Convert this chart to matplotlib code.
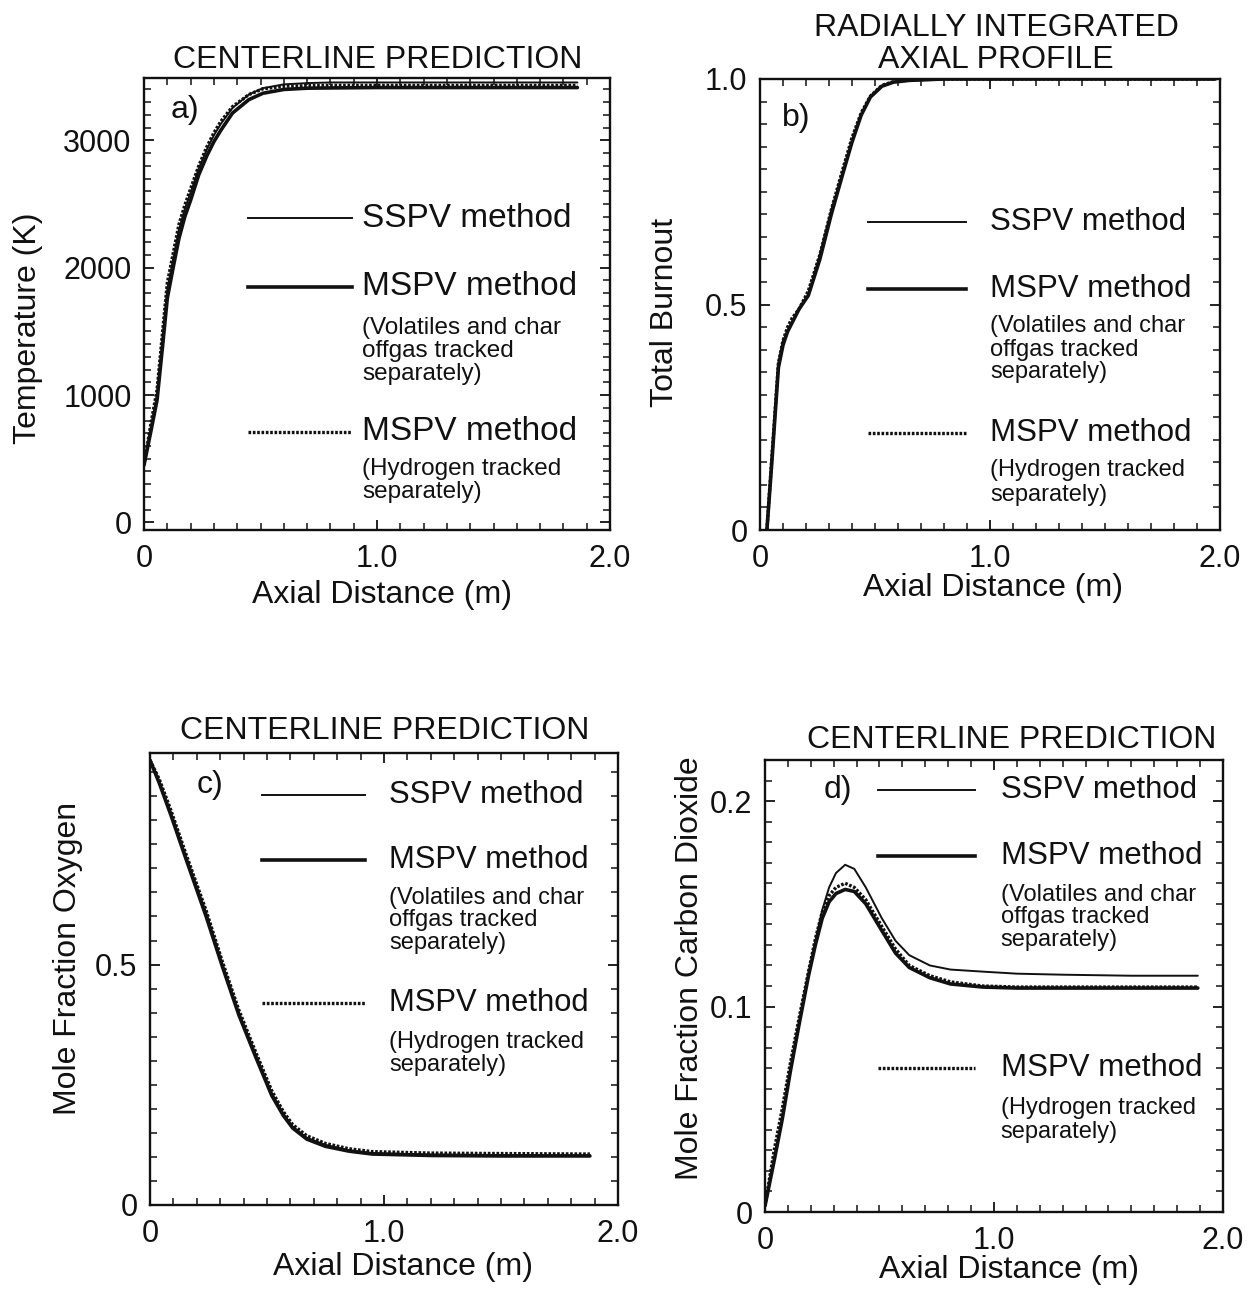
import matplotlib
matplotlib.use("Agg")
import matplotlib.pyplot as plt
from matplotlib.ticker import MultipleLocator, FixedLocator

plt.rcParams['font.family'] = ['Liberation Sans', 'DejaVu Sans']

W, H = 1260, 1290
INK = '#111111'

# ---------------- data ----------------
# a) centerline temperature (K)
xa = [0, 0.03, 0.056, 0.08, 0.10, 0.125, 0.15, 0.175, 0.20, 0.235, 0.27, 0.30,
      0.33, 0.38, 0.45, 0.51, 0.60, 0.70, 0.80, 1.0, 1.2, 1.4, 1.6, 1.86]
temp_sspv = [450, 750, 1000, 1450, 1830, 2070, 2300, 2460, 2590, 2780, 2930, 3040,
             3130, 3255, 3360, 3410, 3440, 3450, 3455, 3455, 3455, 3455, 3455, 3455]
temp_mspv = [450, 720, 960, 1390, 1760, 2000, 2230, 2400, 2530, 2730, 2880, 2990,
             3080, 3215, 3320, 3370, 3400, 3410, 3412, 3415, 3415, 3415, 3415, 3415]
temp_h2 = [450, 780, 1040, 1500, 1880, 2110, 2340, 2490, 2620, 2800, 2950, 3060,
           3150, 3265, 3360, 3405, 3425, 3430, 3432, 3432, 3432, 3432, 3432, 3432]

# b) radially integrated total burnout
xb = [0.03, 0.05, 0.08, 0.10, 0.12, 0.14, 0.17, 0.21, 0.26, 0.31, 0.36, 0.40,
      0.44, 0.48, 0.53, 0.58, 0.65, 0.80, 1.0, 1.5, 1.98]
burn_sspv = [0, 0.15, 0.37, 0.42, 0.44, 0.46, 0.49, 0.52, 0.61, 0.71, 0.79, 0.86,
             0.92, 0.96, 0.985, 0.993, 0.997, 1.0, 1.0, 1.0, 1.0]
burn_mspv = [0, 0.14, 0.36, 0.41, 0.44, 0.46, 0.49, 0.52, 0.60, 0.70, 0.79, 0.86,
             0.92, 0.96, 0.984, 0.993, 0.997, 1.0, 1.0, 1.0, 1.0]
burn_h2 = [0, 0.15, 0.37, 0.42, 0.45, 0.47, 0.49, 0.53, 0.61, 0.71, 0.80, 0.87,
           0.925, 0.962, 0.986, 0.994, 0.998, 1.0, 1.0, 1.0, 1.0]

# c) centerline oxygen mole fraction
xc = [0, 0.04, 0.09, 0.15, 0.24, 0.31, 0.38, 0.45, 0.52, 0.57, 0.61, 0.67,
      0.75, 0.85, 0.95, 1.2, 1.5, 1.88]
o2_sspv = [0.925, 0.88, 0.815, 0.73, 0.608, 0.50, 0.40, 0.315, 0.233, 0.19, 0.163,
           0.14, 0.125, 0.114, 0.108, 0.105, 0.104, 0.103]
o2_mspv = [0.925, 0.877, 0.81, 0.725, 0.600, 0.495, 0.395, 0.31, 0.228, 0.186, 0.160,
           0.137, 0.122, 0.112, 0.106, 0.103, 0.102, 0.102]
o2_h2 = [0.925, 0.885, 0.82, 0.735, 0.612, 0.505, 0.405, 0.32, 0.238, 0.194, 0.167,
         0.144, 0.128, 0.117, 0.111, 0.108, 0.107, 0.106]

# d) centerline carbon dioxide mole fraction
xd = [0, 0.04, 0.075, 0.11, 0.15, 0.19, 0.22, 0.25, 0.28, 0.31, 0.35, 0.39,
      0.44, 0.51, 0.57, 0.63, 0.72, 0.81, 0.95, 1.1, 1.3, 1.6, 1.89]
co2_sspv = [0.003, 0.025, 0.045, 0.068, 0.092, 0.115, 0.132, 0.147, 0.158, 0.165,
            0.169, 0.167, 0.158, 0.143, 0.132, 0.125, 0.120, 0.118, 0.117, 0.116,
            0.1155, 0.115, 0.115]
co2_mspv = [0.003, 0.025, 0.045, 0.068, 0.092, 0.115, 0.130, 0.143, 0.151, 0.155,
            0.157, 0.156, 0.150, 0.137, 0.126, 0.119, 0.114, 0.111, 0.1095, 0.109,
            0.109, 0.109, 0.109]
co2_h2 = [0.003, 0.030, 0.050, 0.072, 0.095, 0.117, 0.133, 0.146, 0.154, 0.158,
          0.160, 0.158, 0.152, 0.139, 0.128, 0.120, 0.115, 0.112, 0.110, 0.1095,
          0.1095, 0.1095, 0.1095]

xticks = [0, 1.0, 2.0]
xtick_labels = ['0', '1.0', '2.0']

titles = ["CENTERLINE PREDICTION", "RADIALLY INTEGRATED\nAXIAL PROFILE",
          "CENTERLINE PREDICTION", "CENTERLINE PREDICTION"]
ylabels = ["Temperature (K)", "Total Burnout", "Mole Fraction Oxygen",
           "Mole Fraction Carbon Dioxide"]
xlabel = "Axial Distance (m)"
panel_tags = ["a)", "b)", "c)", "d)"]
method_main = ["SSPV method", "MSPV method", "MSPV method"]
sub_volatiles = ["(Volatiles and char", "offgas tracked", "separately)"]
sub_hydrogen = ["(Hydrogen tracked", "separately)"]

# ---------------- figure ----------------
fig = plt.figure(figsize=(W / 100, H / 100), dpi=100)


def box(l, t, r, b):
    return [l / W, 1 - b / H, (r - l) / W, (b - t) / H]


def ftext(px, py, s, **kw):
    fig.text(px / W, 1 - py / H, s, **kw)


styles = [dict(lw=1.4, ls='-'), dict(lw=2.6, ls='-'),
          dict(lw=2.4, ls=(0, (0.8, 0.5)))]

panels = [
    dict(rect=box(144, 78, 610, 530), x=xa, ys=[temp_sspv, temp_mspv, temp_h2],
         ylim=(-60, 3490), yticks=[0, 1000, 2000, 3000],
         yticklabels=['0', '1000', '2000', '3000'], ymin=100, xlim=(0, 2.0),
         line=(0.223, 0.446), tx=0.468, fs=24, sfs=17.5,
         ypos=[0.690, 0.538, 0.217], sub1=[0.446, 0.396, 0.346], sub2=[0.135, 0.083],
         tag=(0.088, 0.929)),
    dict(rect=box(760, 79, 1220, 530), x=xb, ys=[burn_sspv, burn_mspv, burn_h2],
         ylim=(0, 1.0), yticks=[0, 0.5, 1.0], yticklabels=['0', '0.5', '1.0'],
         ymin=0.05, xlim=(0, 2.0),
         line=(0.235, 0.447), tx=0.501, fs=22.5, sfs=17,
         ypos=[0.683, 0.534, 0.215], sub1=[0.452, 0.399, 0.350], sub2=[0.133, 0.078],
         tag=(0.078, 0.914)),
    dict(rect=box(150, 753, 618, 1205), x=xc, ys=[o2_sspv, o2_mspv, o2_h2],
         ylim=(0, 0.94), yticks=[0, 0.5], yticklabels=['0', '0.5'],
         ymin=0.05, xlim=(0, 2.0),
         line=(0.239, 0.459), tx=0.511, fs=22.3, sfs=17,
         ypos=[0.907, 0.763, 0.447], sub1=[0.679, 0.631, 0.580], sub2=[0.361, 0.310],
         tag=(0.128, 0.929)),
    dict(rect=box(765, 760, 1223, 1212), x=xd, ys=[co2_sspv, co2_mspv, co2_h2],
         ylim=(0, 0.22), yticks=[0, 0.1, 0.2], yticklabels=['0', '0.1', '0.2'],
         ymin=0.01, xlim=(0, 2.0),
         line=(0.247, 0.459), tx=0.515, fs=22.5, sfs=17,
         ypos=[0.934, 0.788, 0.319], sub1=[0.701, 0.653, 0.602], sub2=[0.230, 0.177],
         tag=(0.159, 0.934)),
]

for i, p in enumerate(panels):
    ax = fig.add_axes(p['rect'])
    for y, st in zip(p['ys'], styles):
        ax.plot(p['x'], y, color=INK, solid_capstyle='round', **st)
    ax.set_xlim(*p['xlim'])
    ax.set_ylim(*p['ylim'])
    ax.xaxis.set_major_locator(FixedLocator(xticks))
    ax.set_xticklabels(xtick_labels)
    ax.xaxis.set_minor_locator(MultipleLocator(0.1))
    ax.yaxis.set_major_locator(FixedLocator(p['yticks']))
    ax.set_yticklabels(p['yticklabels'])
    ax.yaxis.set_minor_locator(MultipleLocator(p['ymin']))
    ax.tick_params(which='both', direction='in', top=True, right=True,
                   color=INK, labelcolor=INK, labelsize=22)
    ax.tick_params(which='major', length=7, width=1.3)
    ax.tick_params(which='minor', length=5, width=1.1)
    ax.tick_params(axis='x', which='major', pad=10)
    ax.tick_params(axis='y', which='major', pad=9)
    for sp in ax.spines.values():
        sp.set_linewidth(1.7)
        sp.set_color(INK)

    # in-plot key
    for yy, st, lab in zip(p['ypos'], styles, method_main):
        ax.plot(p['line'], [yy, yy], transform=ax.transAxes, color=INK, **st)
        ax.text(p['tx'], yy, lab, transform=ax.transAxes, fontsize=p['fs'],
                va='center', ha='left', color=INK)
    for yy, lab in zip(p['sub1'], sub_volatiles):
        ax.text(p['tx'], yy, lab, transform=ax.transAxes, fontsize=p['sfs'],
                va='center', ha='left', color=INK)
    for yy, lab in zip(p['sub2'], sub_hydrogen):
        ax.text(p['tx'], yy, lab, transform=ax.transAxes, fontsize=p['sfs'],
                va='center', ha='left', color=INK)
    ax.text(p['tag'][0], p['tag'][1], panel_tags[i],
            transform=ax.transAxes, fontsize=23, va='center', ha='center', color=INK)

# titles
ftext(378, 60, titles[0], fontsize=23, ha='center', va='center', color=INK)
ftext(996, 44, titles[1], fontsize=23, ha='center', va='center', color=INK,
      linespacing=1.05)
ftext(385, 731, titles[2], fontsize=23, ha='center', va='center', color=INK)
ftext(1012, 740, titles[3], fontsize=23, ha='center', va='center', color=INK)

# axis labels
for (px, py) in [(382, 595), (993, 588), (403, 1267), (1009, 1270)]:
    ftext(px, py, xlabel, fontsize=23, ha='center', va='center', color=INK)
for (px, py), lab in zip([(28, 328), (665, 312), (68, 958), (690, 968)], ylabels):
    ftext(px, py, lab, fontsize=23, ha='center', va='center', rotation=90, color=INK)

fig.savefig("out.png", dpi=100, facecolor='white')
